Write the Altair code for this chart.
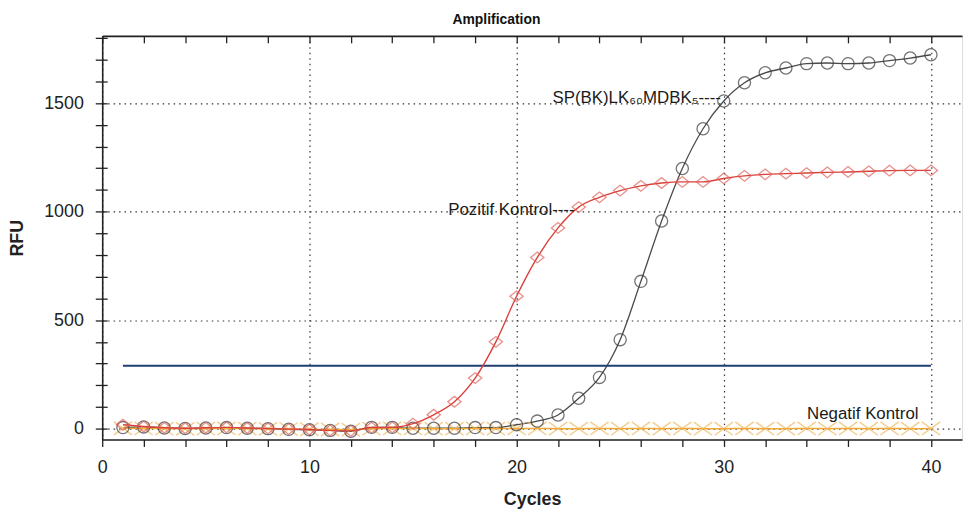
import altair as alt
import pandas as pd

FONT = "Liberation Sans"

# ---- data ----
cycles = list(range(1, 41))
sp_values = [5, 8, 3, 1, 3, 5, 2, 0, -3, -5, -8, -12, 6, 6, 2, 2, 2, 5, 5, 18,
             35, 63, 140, 236, 410, 679, 957, 1199, 1382, 1510,
             1594, 1640, 1662, 1682, 1685, 1682, 1685, 1696, 1708, 1723]
poz_values = [18, 10, 4, 2, 4, 6, 3, 1, -2, -4, -8, -10, 5, 6, 23, 64, 124, 233, 400, 610,
              789, 925, 1021, 1066, 1097, 1119, 1132, 1137, 1137, 1153,
              1165, 1172, 1175, 1178, 1181, 1183, 1186, 1189, 1190, 1190]
neg_values = [2, 1, 0, -1, 0, 1, 0, -1, -2, -3, -4, -5, 0, 1, 1, 0, 0, 1, 0, 1,
              1, 0, 0, 1, 0, 1, 0, 1, 0, 0, 1, 0, 0, 1, 0, 1, 0, 1, 0, 1]
threshold_value = 290
threshold_cycles = [1, 40]

label_texts = ["SP(BK)LK₆₀MDBK₅----", "Pozitif Kontrol----", "Negatif Kontrol"]
label_cycles = [29.86, 22.8, 39.4]
label_rfu = [1525, 1007, 67]

x_ticks = list(range(0, 41, 2))
y_ticks = list(range(0, 1801, 100))

# ---- tables ----
sp_df = pd.DataFrame({"cycle": cycles, "rfu": sp_values})
poz_df = pd.DataFrame({"cycle": cycles, "rfu": poz_values})
neg_df = pd.DataFrame({"cycle": cycles, "rfu": neg_values})
thr_df = pd.DataFrame({"cycle": [threshold_cycles[0]], "cycle2": [threshold_cycles[1]], "rfu": [threshold_value]})
lab_df = pd.DataFrame({"cycle": label_cycles, "rfu": label_rfu, "text": label_texts})

xs = alt.Scale(domain=[0, 41.5], nice=False, zero=False)
ys = alt.Scale(domain=[-50, 1810], nice=False, zero=False)

x_main = alt.Axis(
    orient="bottom", values=x_ticks,
    labelExpr="datum.value % 10 === 0 ? datum.label : ''",
    labelFont=FONT, labelFontSize=18, labelColor="#222", labelPadding=12,
    labelFlush=False, labelOverlap=False,
    tickSize=7, tickColor="#222", tickWidth=1.3,
    domainColor="#222", domainWidth=1.6,
    grid=True, gridColor="#333", gridDash=[1.5, 4], gridWidth=1.2,
    gridOpacity={"condition": {"test": "datum.value % 10 === 0", "value": 1}, "value": 0},
    title="Cycles", titleFont=FONT, titleFontSize=18, titleFontWeight="bold",
    titleColor="#222", titlePadding=15,
)
y_main = alt.Axis(
    orient="left", values=y_ticks, format="d",
    labelExpr="datum.value % 500 === 0 ? datum.label : ''",
    labelFont=FONT, labelFontSize=18, labelColor="#222", labelPadding=12,
    labelFlush=False, labelOverlap=False,
    tickSize=7, tickColor="#222", tickWidth=1.3,
    domainColor="#222", domainWidth=1.6,
    grid=True, gridColor="#333", gridDash=[1.5, 4], gridWidth=1.2,
    gridOpacity={"condition": {"test": "datum.value % 500 === 0", "value": 1}, "value": 0},
    title="RFU", titleFont=FONT, titleFontSize=18, titleFontWeight="bold",
    titleColor="#222", titlePadding=17,
)
x_top = alt.Axis(
    orient="top", values=x_ticks, labels=False, grid=False,
    tickSize=7, offset=-7, tickColor="#222", tickWidth=1.3,
    domain=False, title=None,
)
y_inner = alt.Axis(
    orient="left", values=y_ticks, labels=False, grid=False,
    tickSize=5, offset=-5, tickColor="#222", tickWidth=1.3,
    domain=False, title=None,
)
x_topline = alt.Axis(
    orient="top", values=x_ticks, labels=False, grid=False, ticks=False,
    domain=True, domainColor="#222", domainWidth=1.6, title=None,
)

def xenc(axis):
    return alt.X("cycle:Q", scale=xs, axis=axis)

def yenc(axis):
    return alt.Y("rfu:Q", scale=ys, axis=axis)

X_SHAPE = "M-1,-0.72L1,0.72M-1,0.72L1,-0.72"
DIAMOND = "M-1,0L0,-0.8L1,0L0,0.8Z"

thr = alt.Chart(thr_df).mark_rule(color="#1f3f73", strokeWidth=2).encode(
    x=xenc(x_top), x2="cycle2:Q", y=yenc(y_inner)
)
topline = alt.Chart(thr_df).mark_point(opacity=0).encode(
    x=xenc(x_topline), y=yenc(None)
)

neg_line = alt.Chart(neg_df).mark_line(color="#f0a830", strokeWidth=1.5, interpolate="monotone").encode(
    x=xenc(None), y=yenc(None))
neg_pts = alt.Chart(neg_df).mark_point(shape=X_SHAPE, filled=False, color="#f3b960",
                                       size=340, strokeWidth=1.5).encode(
    x=xenc(None), y=yenc(None))

sp_line = alt.Chart(sp_df).mark_line(color="#4a4a4a", strokeWidth=1.3, interpolate="monotone").encode(
    x=xenc(x_main), y=yenc(y_main))
sp_pts = alt.Chart(sp_df).mark_point(shape="circle", filled=False, color="#3a3a3a",
                                     size=150, strokeWidth=1.3).encode(
    x=xenc(None), y=yenc(None))

poz_line = alt.Chart(poz_df).mark_line(color="#d9403a", strokeWidth=1.4, interpolate="monotone").encode(
    x=xenc(None), y=yenc(None))
poz_pts = alt.Chart(poz_df).mark_point(shape=DIAMOND, filled=False, color="#e0605a",
                                       size=180, strokeWidth=1.3).encode(
    x=xenc(None), y=yenc(None))

labels = alt.Chart(lab_df).mark_text(align="right", baseline="middle", font=FONT,
                                     fontSize=17, color="#1a1a1a").encode(
    x=xenc(None), y=yenc(None), text="text:N")

chart = alt.layer(
    sp_line, thr, topline, neg_line, neg_pts, sp_pts, poz_line, poz_pts, labels
).resolve_axis(x="independent", y="independent").properties(
    width=867, height=407,
    autosize="none",
    padding={"left": 95, "top": 26, "right": 2, "bottom": 72},
    title=alt.TitleParams("Amplification", font=FONT, fontSize=14, fontWeight="bold",
                          color="#111", dx=-36, offset=2),
).configure_view(stroke=None).configure(background="white")

chart.save("out.html", embed_options={"renderer": "svg", "actions": False})
